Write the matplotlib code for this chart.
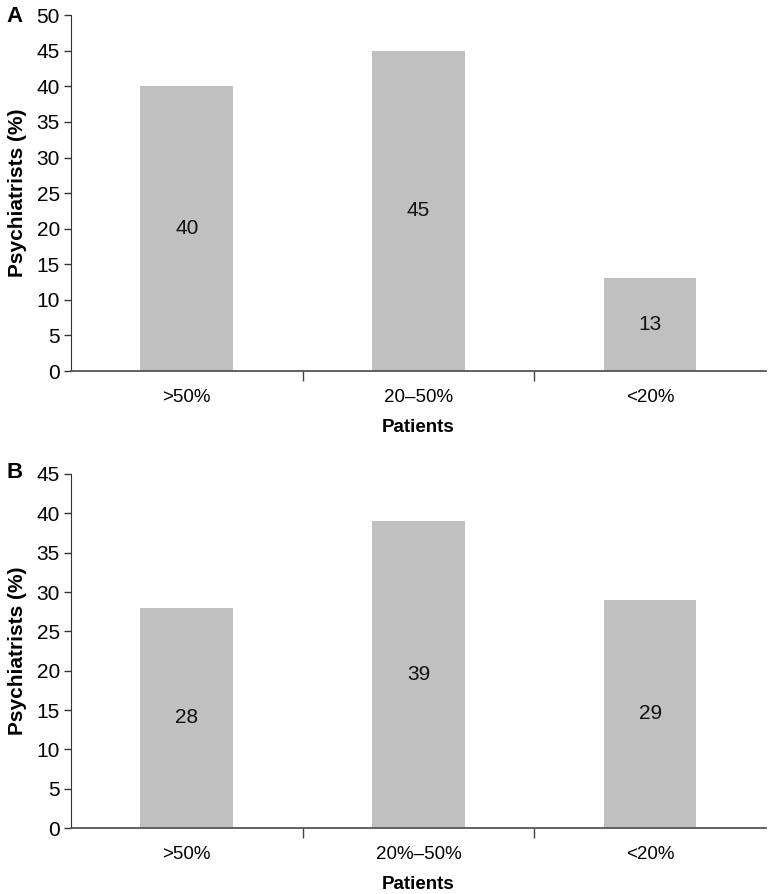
import matplotlib
matplotlib.use("Agg")
import matplotlib.pyplot as plt
from matplotlib.ticker import MultipleLocator, FixedLocator, NullFormatter

plt.rcParams['font.family'] = ['Liberation Sans', 'DejaVu Sans']

cats_a = [">50%", "20–50%", "<20%"]
vals_a = [40, 45, 13]
cats_b = [">50%", "20%–50%", "<20%"]
vals_b = [28, 39, 29]

fig = plt.figure(figsize=(7.73, 8.94), dpi=100)

def panel(rect, cats, vals, ymax, letter, letter_y):
    ax = fig.add_axes(rect)
    x = list(range(len(cats)))
    ax.bar(x, vals, width=0.4, color="#c0c0c0", zorder=2)
    for xi, v in zip(x, vals):
        ax.text(xi, v / 2, str(v), ha="center", va="center", fontsize=15, color="#111111")
    ax.set_xlim(-0.5, len(cats) - 0.5)
    ax.set_ylim(0, ymax)
    ax.yaxis.set_major_locator(MultipleLocator(5))
    ax.set_xticks(x)
    ax.set_xticklabels(cats, fontsize=13.5)
    ax.tick_params(axis="x", which="major", length=0, pad=13)
    ax.xaxis.set_minor_locator(FixedLocator([0.5, 1.5]))
    ax.xaxis.set_minor_formatter(NullFormatter())
    ax.tick_params(axis="x", which="minor", length=7, width=1, color="#444444", direction="out")
    ax.tick_params(axis="y", length=5, width=1, labelsize=15, pad=3, color="#333333")
    for s in ["top", "right"]:
        ax.spines[s].set_visible(False)
    ax.spines["left"].set_color("#333333")
    ax.spines["bottom"].set_color("#555555")
    ax.spines["bottom"].set_linewidth(1.3)
    ax.set_ylabel("Psychiatrists (%)", fontsize=15, fontweight="bold", labelpad=7)
    ax.set_xlabel("Patients", fontsize=13.5, fontweight="bold", labelpad=9)
    fig.text(15 / 773, 1 - letter_y / 894, letter, fontsize=16, fontweight="bold", va="center", ha="center")
    return ax

panel([0.0918, 0.585, 0.899, 0.398], cats_a, vals_a, 50, "A", 16)
panel([0.0918, 0.0738, 0.899, 0.396], cats_b, vals_b, 45, "B", 473)

fig.savefig("out.png", dpi=100)
